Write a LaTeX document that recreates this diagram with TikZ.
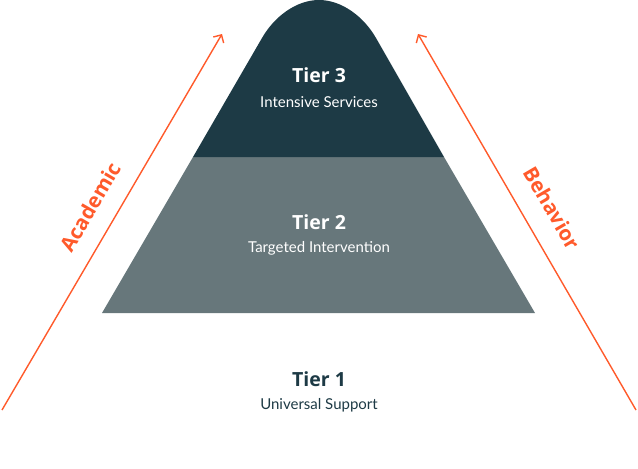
\documentclass[tikz,border=0pt]{standalone}
\usepackage{fontspec}
\setmainfont{Lato}
\newfontfamily\titlefont{Open Sans}
\usetikzlibrary{arrows.meta}
\definecolor{tdark}{HTML}{1D3A45}
\definecolor{tgrey}{HTML}{67777B}
\definecolor{torange}{HTML}{FF5A2B}
\tikzset{
  tiertitle/.style={font=\titlefont\fontsize{19.5}{24}\selectfont\bfseries, anchor=center, inner sep=0pt},
  tiersub/.style={font=\fontsize{15}{18}\selectfont, anchor=center, inner sep=0pt},
  axisarrow/.style={draw=torange, line width=1.4pt, -{Straight Barb[length=6pt,width=12pt,line width=1.4pt]}},
  axislabel/.style={text=torange, font=\titlefont\fontsize{20.5}{24}\selectfont\bfseries, inner sep=0pt}
}
\begin{document}
\begin{tikzpicture}[x=1pt,y=-1pt]
\useasboundingbox (0,0) rectangle (638,469);
% tier 2
\fill[tgrey] (102,313) -- (193,157) -- (444,157) -- (535,313) -- cycle;
% tier 3
\fill[tdark] (193,157) -- (262,38) .. controls (274,17) and (296,0) .. (319,0)
  .. controls (342,0) and (364,17) .. (376,38) -- (444,157) -- cycle;
% texts
\node[tiertitle, text=white] (t3) at (319,75) {Tier 3};
\node[tiersub, text=white] (s3) at (319,102) {Intensive Services};
\node[tiertitle, text=white] (t2) at (319,222) {Tier 2};
\node[tiersub, text=white] (s2) at (319,248) {Targeted Intervention};
\node[tiertitle, text=tdark] (t1) at (319,379) {Tier 1};
\node[tiersub, text=tdark] (s1) at (319,405) {Universal Support};
% arrows
\coordinate (a0) at (2,410);
\coordinate (a1) at (222,34);
\coordinate (b0) at (636,410);
\coordinate (b1) at (418,34);
\draw[axisarrow] (a0) -- (a1);
\draw[axisarrow] (b0) -- (b1);
\node[axislabel, rotate=59.7] (acad) at (90,207) {Academic};
\node[axislabel, rotate=-59.7] (beh) at (552,208) {Behavior};
\end{tikzpicture}
\end{document}
